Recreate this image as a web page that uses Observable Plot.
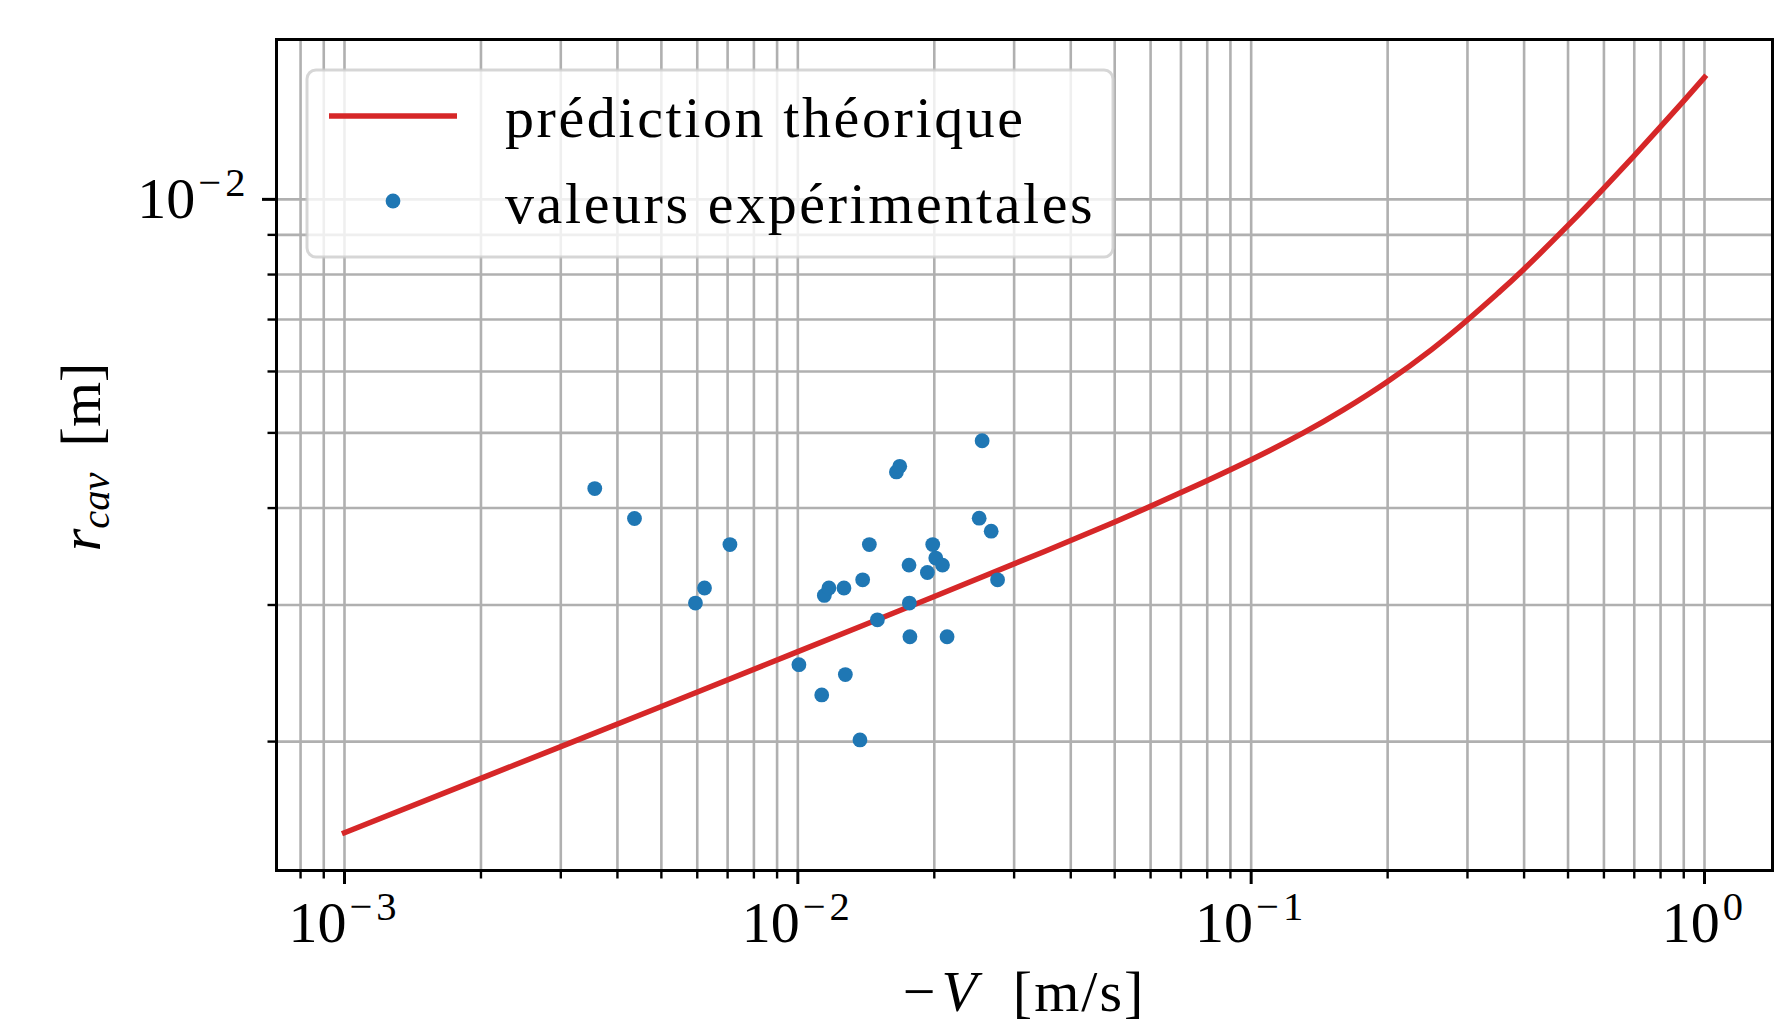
<!DOCTYPE html>
<html>
<head>
<meta charset="utf-8">
<script src="https://cdn.jsdelivr.net/npm/d3@7"></script>
<script src="https://cdn.jsdelivr.net/npm/@observablehq/plot@0.6"></script>
<style>
  html, body { margin: 0; padding: 0; background: #fff; }
  #chart { width: 1781px; height: 1025px; overflow: hidden; }
</style>
</head>
<body>
<div id="chart"></div>
<script>
// ---- data ----
const lineV = [0.001, 0.002, 0.005, 0.01, 0.02, 0.035, 0.05, 0.07, 0.1, 0.13, 0.16, 0.2, 0.25, 0.3, 0.35, 0.4, 0.5, 0.6, 0.7, 0.8, 0.9, 1.0];
const lineR = [0.001526, 0.001793, 0.002220, 0.002612, 0.003076, 0.003517, 0.003838, 0.004188, 0.004618, 0.004996, 0.005358, 0.005825, 0.006403, 0.006990, 0.007567, 0.008132, 0.009256, 0.010342, 0.011390, 0.012407, 0.013398, 0.014368];

const pointV = [0.003565, 0.004362, 0.007083, 0.006225, 0.005945, 0.010055, 0.01129, 0.01273, 0.01371, 0.01144, 0.01171, 0.01264, 0.01390, 0.01438, 0.01498, 0.01650, 0.01678, 0.01759, 0.01762, 0.01767, 0.01931, 0.01984, 0.02015, 0.02085, 0.02134, 0.02512, 0.02550, 0.02670, 0.02758];
const pointR = [0.004238, 0.003878, 0.003589, 0.003155, 0.003017, 0.002513, 0.002297, 0.002440, 0.002010, 0.003086, 0.003155, 0.003155, 0.003233, 0.003589, 0.002871, 0.004453, 0.004528, 0.003377, 0.003017, 0.002730, 0.003304, 0.003589, 0.003448, 0.003377, 0.002730, 0.003882, 0.004885, 0.003735, 0.003233];

const xMajorTicks = [1e-3, 1e-2, 1e-1, 1];
const yMajorTicks = [1e-2];
const legendLabels = ["prédiction théorique", "valeurs expérimentales"];
const xLabelParts = ["−", "V", "[m/s]"];
const yLabelParts = ["r", "cav", "[m]"];

const RED = "#d62728", BLUE = "#1f77b4", GRID = "#b0b0b0";
const FONT = "'Liberation Serif', 'DejaVu Serif', serif";

// ---- scales (matplotlib-like 5% margins in log space) ----
function logDomain(vals) {
  const ext = d3.extent(vals.map(Math.log10));
  const pad = 0.05 * (ext[1] - ext[0]);
  return [Math.pow(10, ext[0] - pad), Math.pow(10, ext[1] + pad)];
}
const xDomain = logDomain([...lineV, ...pointV]);
const yDomain = logDomain([...lineR, ...pointR]);

function logTicks(domain) {
  const out = [];
  for (let n = Math.floor(Math.log10(domain[0])); n <= Math.ceil(Math.log10(domain[1])); n++) {
    for (let k = 1; k <= 9; k++) {
      const v = +(k * Math.pow(10, n)).toPrecision(12);
      if (v >= domain[0] && v <= domain[1]) out.push(v);
    }
  }
  return out;
}
const xAll = logTicks(xDomain);
const yAll = logTicks(yDomain);
const isMajor = v => Math.abs(Math.log10(v) - Math.round(Math.log10(v))) < 1e-9;
const xMinor = xAll.filter(v => !isMajor(v));
const yMinor = yAll.filter(v => !isMajor(v));

const lineData = lineV.map((v, i) => ({v, r: lineR[i]}));
const pointData = pointV.map((v, i) => ({v, r: pointR[i]}));
const expFmt = d => `10^${Math.round(Math.log10(d))}`;

const chart = Plot.plot({
  width: 1781,
  height: 1025,
  marginLeft: 276,
  marginRight: 9,
  marginTop: 39,
  marginBottom: 155,
  style: {fontFamily: FONT, fontSize: "58px", background: "white", color: "black"},
  x: {type: "log", domain: xDomain, label: null},
  y: {type: "log", domain: yDomain, label: null},
  marks: [
    Plot.gridX(xAll, {stroke: GRID, strokeOpacity: 1, strokeWidth: 2.6}),
    Plot.gridY(yAll, {stroke: GRID, strokeOpacity: 1, strokeWidth: 2.6}),
    Plot.line(lineData, {x: "v", y: "r", stroke: RED, strokeWidth: 5.5, curve: "natural", strokeLinecap: "square"}),
    Plot.dot(pointData, {x: "v", y: "r", r: 7.4, fill: BLUE, stroke: "none"}),
    Plot.frame({stroke: "black", strokeWidth: 3}),
    Plot.axisX(xMinor, {tickSize: 8.5, strokeWidth: 2.4, tickFormat: () => "", label: null}),
    Plot.axisX(xMajorTicks, {tickSize: 14, tickPadding: 16, strokeWidth: 3, tickFormat: expFmt, label: null, fontSize: 58}),
    Plot.axisY(yMinor, {tickSize: 8.5, strokeWidth: 2.4, tickFormat: () => "", label: null}),
    Plot.axisY(yMajorTicks, {tickSize: 14, tickPadding: 13, strokeWidth: 3, tickFormat: expFmt, label: null, fontSize: 58})
  ]
});
document.getElementById("chart").appendChild(chart);

const svg = d3.select(chart);

// superscript exponents on tick labels
svg.selectAll("text").each(function () {
  const t = this.textContent;
  const m = t.match(/^10\^(-?\d+)$/);
  if (!m) return;
  const e = +m[1];
  const sel = d3.select(this);
  sel.text("10");
  sel.append("tspan").attr("dy", -22).attr("dx", 3).attr("font-size", "40.6px")
    .attr("letter-spacing", 4)
    .text((e < 0 ? "−" : "") + Math.abs(e));
});

// x-axis label
const xl = svg.append("text").attr("x", 1024).attr("y", 1011)
  .attr("text-anchor", "middle").attr("font-size", 58).attr("font-family", FONT).attr("fill", "black");
xl.append("tspan").text(xLabelParts[0]);
xl.append("tspan").attr("dx", 6).attr("font-style", "italic").text(xLabelParts[1]);
xl.append("tspan").attr("dx", 36).attr("letter-spacing", 2).text(xLabelParts[2]);

// y-axis label
const yl = svg.append("text").attr("transform", "translate(100,457) rotate(-90)")
  .attr("text-anchor", "middle").attr("font-size", 58).attr("font-family", FONT).attr("fill", "black");
yl.append("tspan").attr("font-style", "italic").text(yLabelParts[0]);
yl.append("tspan").attr("font-style", "italic").attr("font-size", "40.6px").attr("dy", 9).text(yLabelParts[1]);
yl.append("tspan").attr("dy", -9).attr("dx", 26).text(yLabelParts[2]);

// legend
const lg = svg.append("g").attr("text-anchor", "start");
lg.append("rect").attr("x", 307).attr("y", 70).attr("width", 806).attr("height", 187).attr("rx", 9)
  .attr("fill", "white").attr("fill-opacity", 0.8)
  .attr("stroke", "#cccccc").attr("stroke-opacity", 0.8).attr("stroke-width", 3);
lg.append("line").attr("x1", 329).attr("x2", 457).attr("y1", 116).attr("y2", 116)
  .attr("stroke", RED).attr("stroke-width", 5.5);
lg.append("circle").attr("cx", 393).attr("cy", 201).attr("r", 7.4).attr("fill", BLUE);
lg.append("text").attr("x", 505).attr("y", 137).attr("font-size", 58).attr("font-family", FONT)
  .attr("text-anchor", "start").attr("letter-spacing", 2.6).attr("fill", "black").text(legendLabels[0]);
lg.append("text").attr("x", 505).attr("y", 223).attr("font-size", 58).attr("font-family", FONT)
  .attr("text-anchor", "start").attr("letter-spacing", 2.6).attr("fill", "black").text(legendLabels[1]);
</script>
</body>
</html>
